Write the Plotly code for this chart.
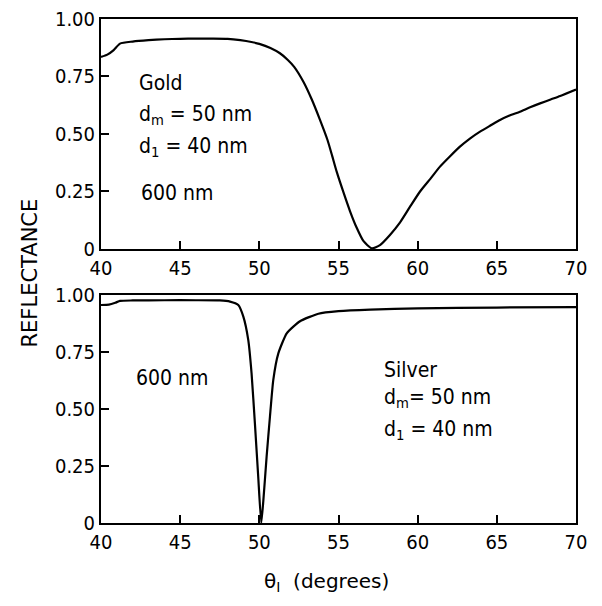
import plotly.graph_objects as go
from plotly.subplots import make_subplots

# ---- data ----
gold_theta = [40.0, 40.4, 40.8, 41.2, 42, 43, 44, 45, 46, 47, 48, 48.8, 49.5, 50.0, 50.7, 51.3,
              51.8, 52.2, 52.8, 53.3, 53.8, 54.3, 54.6, 54.89, 55.31, 55.73, 56.15, 56.57, 57.1,
              57.62, 58.25, 58.89, 59.52, 60.15, 60.8, 61.41, 62.0, 62.67, 63.3, 63.94, 64.6,
              65.2, 65.8, 66.46, 67.1, 67.73, 68.4, 69.0, 70.0]
gold_R = [0.835, 0.845, 0.865, 0.893, 0.902, 0.908, 0.912, 0.914, 0.915, 0.915, 0.914, 0.908,
          0.900, 0.892, 0.874, 0.851, 0.822, 0.792, 0.725, 0.652, 0.567, 0.475, 0.405, 0.335,
          0.247, 0.164, 0.092, 0.035, 0.003, 0.017, 0.061, 0.116, 0.184, 0.250, 0.305, 0.358,
          0.400, 0.445, 0.480, 0.510, 0.537, 0.561, 0.580, 0.597, 0.616, 0.633, 0.650, 0.665,
          0.693]

silver_theta = [40, 40.5, 40.9, 41.2, 42, 44, 46, 47.5, 48.15, 48.67, 48.99, 49.3, 49.51, 49.72,
                49.93, 50.12, 50.25, 50.46, 50.67, 50.88, 51.2, 51.73, 52.57, 53.73, 55, 57, 60,
                65, 70]
silver_R = [0.956, 0.958, 0.966, 0.974, 0.976, 0.977, 0.977, 0.976, 0.971, 0.956, 0.905, 0.803,
            0.656, 0.437, 0.203, 0.0, 0.095, 0.291, 0.466, 0.627, 0.744, 0.832, 0.885, 0.918,
            0.929, 0.936, 0.941, 0.945, 0.947]

x_ticks = [40, 45, 50, 55, 60, 65, 70]
y_ticks = [0, 0.25, 0.5, 0.75, 1.0]
y_ticktext = ["0", "0.25", "0.50", "0.75", "1.00"]

FONT = "DejaVu Sans"
FONT_C = "DejaVu Sans Condensed"

fig = make_subplots(rows=2, cols=1, shared_xaxes=False, vertical_spacing=0.09)
fig.add_trace(go.Scatter(x=gold_theta, y=gold_R, mode="lines",
                         line=dict(color="black", width=2.2, shape="spline", smoothing=0.6)), row=1, col=1)
fig.add_trace(go.Scatter(x=silver_theta, y=silver_R, mode="lines",
                         line=dict(color="black", width=2.2, shape="spline", smoothing=0.5)), row=2, col=1)

def ax(**kw):
    d = dict(showline=True, linecolor="black", linewidth=2, mirror=True, showgrid=False,
             zeroline=False, ticks="inside", ticklen=8, tickwidth=2, tickcolor="black",
             showticklabels=True, tickfont=dict(family=FONT_C, size=20, color="black"))
    d.update(kw)
    return d

fig.update_layout(
    template="none",
    width=602, height=606,
    margin=dict(l=101, r=26, t=19, b=83),
    paper_bgcolor="white", plot_bgcolor="white",
    showlegend=False,
    font=dict(family=FONT, size=18, color="black"),
    xaxis=ax(range=[40, 70], tickmode="array", tickvals=x_ticks, anchor="y"),
    xaxis2=ax(range=[40, 70], tickmode="array", tickvals=x_ticks, anchor="y2"),
    yaxis=ax(range=[0, 1], tickmode="array", tickvals=y_ticks, ticktext=y_ticktext,
             domain=[0.5437, 1.0], anchor="x"),
    yaxis2=ax(range=[0, 1], tickmode="array", tickvals=y_ticks, ticktext=y_ticktext,
              domain=[0.0, 0.4524], anchor="x2"),
)

def txt(s, x, y, xr="x", yr="y"):
    fig.add_annotation(text=s, x=x, y=y, xref=xr, yref=yr, xanchor="left", yanchor="middle",
                       showarrow=False, font=dict(family=FONT_C, size=21, color="black"))

txt("Gold", 42.27, 0.722)
txt("d<sub>m</sub> = 50 nm", 42.27, 0.583)
txt("d<sub>1</sub> = 40 nm", 42.27, 0.443)
txt("600 nm", 42.4, 0.243)

txt("600 nm", 42.08, 0.636, "x2", "y2")
txt("Silver", 57.75, 0.671, "x2", "y2")
txt("d<sub>m</sub>= 50 nm", 57.75, 0.548, "x2", "y2")
txt("d<sub>1</sub> = 40 nm", 57.75, 0.408, "x2", "y2")

fig.add_annotation(text="REFLECTANCE", x=-0.1495, y=0.497, xref="paper", yref="paper",
                   textangle=-90, showarrow=False, xanchor="center", yanchor="middle",
                   font=dict(family=FONT, size=21, color="black"))
fig.add_annotation(text="θ<sub>I</sub>  (degrees)", x=0.475, y=-0.117, xref="paper", yref="paper",
                   showarrow=False, xanchor="center", yanchor="middle",
                   font=dict(family=FONT, size=20, color="black"))

fig.write_html("out.html", config={"displayModeBar": False},
               post_script="document.body.style.margin='0px';")
